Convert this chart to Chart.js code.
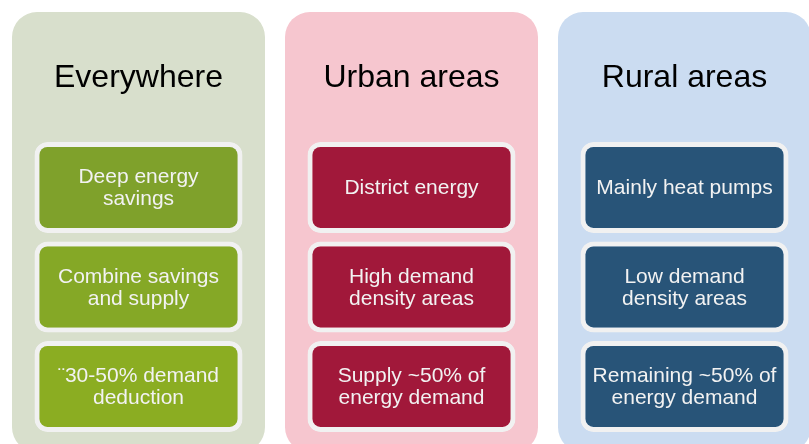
<!DOCTYPE html>
<html>
<head>
<meta charset="utf-8">
<script src="https://cdn.jsdelivr.net/npm/chart.js@4.4.1/dist/chart.umd.min.js"></script>
<style>
  html, body { margin: 0; padding: 0; background: #ffffff; overflow: hidden; }
  #wrap { position: absolute; left: 0; top: 0; width: 821px; height: 444px; }
</style>
</head>
<body>
<div id="wrap"><canvas id="diagram"></canvas></div>
<script>
"use strict"

// kolumnerna och deras rubriker
const columnTitles = ["Everywhere", "Urban areas", "Rural areas"];

// texterna i rutorna, en rad per array (kolumn 1, 2, 3)
const row1Labels = [["Deep energy", "savings"], ["District energy"], ["Mainly heat pumps"]];
const row2Labels = [["Combine savings", "and supply"], ["High demand", "density areas"], ["Low demand", "density areas"]];
const row3Labels = [["\u00a830-50% demand", "deduction"], ["Supply ~50% of", "energy demand"], ["Remaining ~50% of", "energy demand"]];

// färger
const panelColors = ["#d8dfcc", "#f6c6cf", "#cbdcf1"];
const row1Colors = ["#7fa12b", "#a1183a", "#285478"];
const row2Colors = ["#85a826", "#a1183a", "#285478"];
const row3Colors = ["#8bad22", "#a1183a", "#285478"];

const rows = [row1Labels, row2Labels, row3Labels];
const rowColors = [row1Colors, row2Colors, row3Colors];

// panelen bakom varje kolumn, i rad-enheter
const panelSpan = [-1.763, 2.66];
const titleRow = -1.1;
const boxHalf = 0.457;

const datasets = [];

rows.forEach((labels, r) => {
    datasets.push({
        label: "row " + (r + 1),
        data: columnTitles.map(() => [r - boxHalf, r + boxHalf]),
        backgroundColor: rowColors[r],
        borderColor: "#f1f1f1",
        borderWidth: 5,
        borderSkipped: false,
        borderRadius: 13,
        barPercentage: 0.762,
        categoryPercentage: 1,
        grouped: false,
        order: 1,
        boxTexts: labels
    });
});

datasets.push({
    label: "panels",
    data: columnTitles.map(() => panelSpan),
    backgroundColor: panelColors,
    borderWidth: 0,
    borderSkipped: false,
    borderRadius: 25,
    barPercentage: 0.9267,
    categoryPercentage: 1,
    grouped: false,
    order: 2
});

/**
 * Skriver ut rubrikerna och texten i rutorna.
 */
const textPlugin = {
    id: "textPlugin",
    afterDatasetsDraw(chart) {
        const ctx = chart.ctx;
        const xs = chart.scales.x;
        const ys = chart.scales.y;
        ctx.save();
        ctx.textAlign = "center";
        ctx.textBaseline = "middle";

        ctx.fillStyle = "#000000";
        ctx.font = "32px 'Liberation Sans', Arial, sans-serif";
        columnTitles.forEach((t, i) => {
            ctx.fillText(t, xs.getPixelForValue(i), ys.getPixelForValue(titleRow));
        });

        ctx.fillStyle = "#f2f2f2";
        ctx.font = "21px 'Liberation Sans', Arial, sans-serif";
        const lineH = 22;
        rows.forEach((labels, r) => {
            labels.forEach((lines, i) => {
                const cx = xs.getPixelForValue(i);
                const cy = ys.getPixelForValue(r) + 1;
                lines.forEach((line, k) => {
                    ctx.fillText(line, cx, cy + (k - (lines.length - 1) / 2) * lineH);
                });
            });
        });
        ctx.restore();
    }
};

new Chart(document.getElementById("diagram"), {
    type: "bar",
    data: {
        labels: columnTitles,
        datasets: datasets
    },
    options: {
        responsive: true,
        maintainAspectRatio: false,
        animation: false,
        layout: { padding: { left: 2, right: 0, top: 0, bottom: 0 } },
        plugins: {
            legend: { display: false },
            tooltip: { enabled: false }
        },
        scales: {
            x: { display: false, offset: true },
            y: { display: false, reverse: true, min: -1.884, max: 2.578 }
        }
    },
    plugins: [textPlugin]
});
</script>
</body>
</html>
